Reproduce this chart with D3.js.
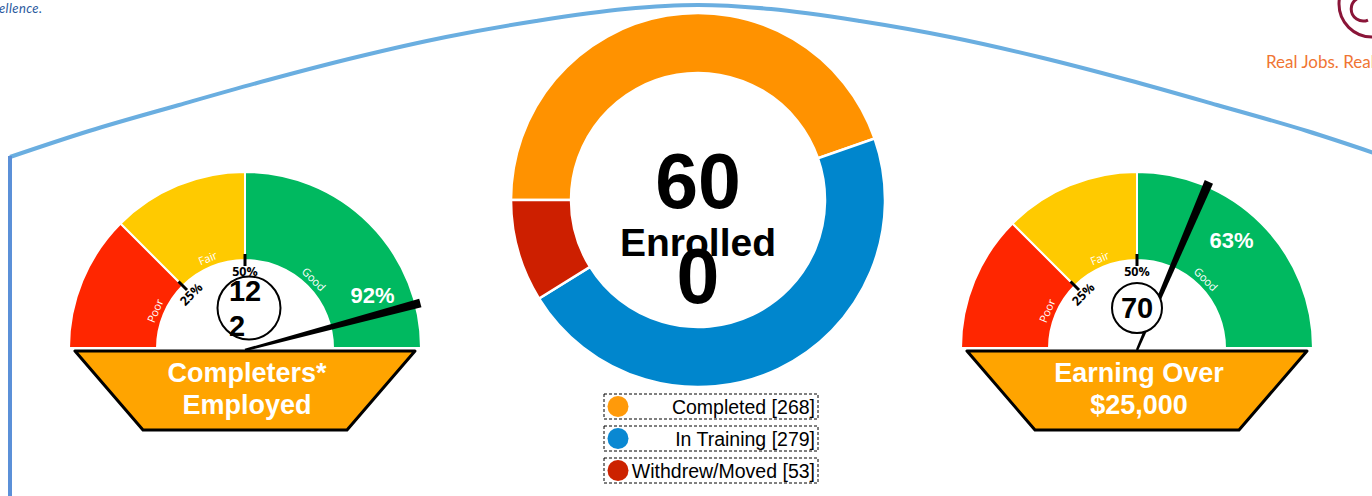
<!DOCTYPE html>
<html>
<head>
<meta charset="utf-8">
<script src="https://cdn.jsdelivr.net/npm/d3@7"></script>
<style>
  html, body { margin: 0; padding: 0; background: #fff; overflow: hidden; }
  svg { display: block; font-family: "Liberation Sans", Arial, sans-serif; }
</style>
</head>
<body>
<div id="chart"></div>
<script>
// enrollment donut
const statusNames = ["Completed", "In Training", "Withdrew/Moved"];
const statusCounts = [268, 279, 53];
const statusColors = ["#ff9200", "#0086cd", "#cd1f00"];
const legendColors = ["#ff9a0a", "#0a88d2", "#cc2200"];
const centerLabel = "Enrolled";

// gauges
const gaugeTitles = [["Completers*", "Employed"], ["Earning Over", "$25,000"]];
const gaugePercents = [0.92, 0.63];
const gaugeCounts = [122, 70];
const bandNames = ["Poor", "Fair", "Good"];
const bandStops = [0, 0.25, 0.5, 1];
const bandColors = ["#ff2600", "#ffca00", "#00b960"];
const tickValues = [0.25, 0.5];

// decorative frame curve (half, mirrored)
const frameHalf = [[10,157],[89,131],[179,105],[268,80],[357,57],[446,37],[536,21],[625,9],[698,5]];

document.addEventListener("DOMContentLoaded", () => {
    const width = 1372, height = 496;

    const svg = d3.select("#chart")
        .append("svg")
        .attr("width", width)
        .attr("height", height);

    // wraps a string character by character so each line fits maxWidth
    function charWrap(textSel, str, maxWidth) {
        const t = textSel.append("tspan");
        const lines = [];
        let line = "";
        for (const ch of str) {
            t.text(line + ch);
            if (t.node().getComputedTextLength() > maxWidth && line) {
                lines.push(line);
                line = ch;
            } else {
                line += ch;
            }
        }
        lines.push(line);
        t.remove();
        return lines;
    }

    // --- frame ---
    const framePts = frameHalf.concat(frameHalf.slice(0, -1).reverse().map(p => [2 * 698 - p[0], p[1]]));
    svg.append("path")
        .attr("d", d3.line().curve(d3.curveMonotoneX)(framePts))
        .attr("fill", "none")
        .attr("stroke", "#6aaee0")
        .attr("stroke-width", 4);
    svg.append("line")
        .attr("x1", 10).attr("x2", 10)
        .attr("y1", 156).attr("y2", height + 5)
        .attr("stroke", "#5b90d8")
        .attr("stroke-width", 4);

    // header bits
    svg.append("text")
        .attr("x", -1).attr("y", 13)
        .attr("font-family", "Lato, sans-serif")
        .attr("font-style", "italic")
        .attr("font-size", "13px")
        .attr("letter-spacing", "0.4px")
        .attr("fill", "#2b5a9e")
        .text("ellence.");
    svg.append("circle")
        .attr("cx", 1372).attr("cy", 4).attr("r", 33)
        .attr("fill", "none").attr("stroke", "#8a1538").attr("stroke-width", 3);
    svg.append("path")
        .attr("d", "M1368,-2 A12,12 0 1,0 1368,20")
        .attr("fill", "none").attr("stroke", "#8a1538").attr("stroke-width", 3);
    svg.append("text")
        .attr("x", 1266).attr("y", 68)
        .attr("font-family", "Lato, sans-serif")
        .attr("font-size", "17px")
        .attr("fill", "#f07533")
        .text("Real Jobs. Real");

    // --- donut ---
    const dcx = 698, dcy = 200;
    const donut = svg.append("g").attr("transform", `translate(${dcx},${dcy})`);
    const pie = d3.pie().sort(null).startAngle(-Math.PI / 2).endAngle(1.5 * Math.PI);
    const arcD = d3.arc().innerRadius(127).outerRadius(187);
    donut.selectAll("path")
        .data(pie(statusCounts))
        .join("path")
        .attr("d", arcD)
        .attr("fill", (d, i) => statusColors[i])
        .attr("stroke", "#fff")
        .attr("stroke-width", 2.5);

    const total = d3.sum(statusCounts);
    const totalText = donut.append("text")
        .attr("text-anchor", "middle")
        .attr("font-weight", "bold")
        .attr("font-size", "77px")
        .attr("fill", "#000");
    charWrap(totalText, String(total), 110).forEach((l, i) => {
        totalText.append("tspan").attr("x", 0).attr("y", 8 + i * 95).text(l);
    });
    donut.append("text")
        .attr("text-anchor", "middle")
        .attr("y", 56)
        .attr("font-weight", "bold")
        .attr("font-size", "39px")
        .text(centerLabel);

    // legend
    const legend = svg.append("g").attr("transform", "translate(604,394)");
    const items = legend.selectAll("g")
        .data(statusNames)
        .join("g")
        .attr("transform", (d, i) => `translate(0,${i * 32})`);
    items.append("rect")
        .attr("width", 214).attr("height", 25)
        .attr("fill", "#fff")
        .attr("stroke", "#000")
        .attr("stroke-width", 1)
        .attr("stroke-dasharray", "3,2");
    items.append("circle")
        .attr("cx", 14).attr("cy", 12.5).attr("r", 10.5)
        .attr("fill", (d, i) => legendColors[i]);
    items.append("text")
        .attr("x", 211).attr("y", 19.5)
        .attr("text-anchor", "end")
        .attr("font-size", "19.5px")
        .attr("fill", "#000")
        .text((d, i) => `${d} [${statusCounts[i]}]`);

    // --- gauges ---
    const gaugeCenters = [245, 1137];
    const gcy = 348, rOut = 176, rIn = 88;
    const angle = d3.scaleLinear().domain([0, 1]).range([-Math.PI / 2, Math.PI / 2]);
    const deg = a => a * 180 / Math.PI;
    const polar = (a, r) => [r * Math.sin(a), -r * Math.cos(a)];

    gaugePercents.forEach((pct, gi) => {
        const g = svg.append("g").attr("transform", `translate(${gaugeCenters[gi]},${gcy})`);

        const bands = bandNames.map((name, i) => ({ name, a0: bandStops[i], a1: bandStops[i + 1] }));
        const arcG = d3.arc().innerRadius(rIn).outerRadius(rOut);
        g.selectAll("path.band")
            .data(bands)
            .join("path")
            .attr("class", "band")
            .attr("d", d => arcG({ startAngle: angle(d.a0), endAngle: angle(d.a1) }))
            .attr("fill", (d, i) => bandColors[i])
            .attr("stroke", "#fff")
            .attr("stroke-width", 2);

        // band names along inner edge
        g.selectAll("text.band")
            .data(bands)
            .join("text")
            .attr("class", "band")
            .attr("transform", d => {
                const a = angle((d.a0 + d.a1) / 2);
                const [x, y] = polar(a, 97);
                return `translate(${x},${y}) rotate(${deg(a)})`;
            })
            .attr("text-anchor", "middle")
            .attr("dy", "0.35em")
            .attr("font-family", "'Open Sans', sans-serif")
            .attr("font-size", "11px")
            .attr("fill", "#fff")
            .text(d => d.name);

        // ticks
        g.selectAll("line.tick")
            .data(tickValues)
            .join("line")
            .attr("class", "tick")
            .attr("x1", d => polar(angle(d), 94)[0])
            .attr("y1", d => polar(angle(d), 94)[1])
            .attr("x2", d => polar(angle(d), 82)[0])
            .attr("y2", d => polar(angle(d), 82)[1])
            .attr("stroke", "#000")
            .attr("stroke-width", 3);
        g.selectAll("text.tick")
            .data(tickValues)
            .join("text")
            .attr("class", "tick")
            .attr("transform", d => {
                const a = angle(d);
                const [x, y] = polar(a, 76);
                return `translate(${x},${y}) rotate(${deg(a)})`;
            })
            .attr("text-anchor", "middle")
            .attr("dy", "0.35em")
            .attr("font-family", "'Open Sans', sans-serif")
            .attr("font-weight", "bold")
            .attr("font-size", "12.5px")
            .attr("fill", "#000")
            .text(d => d3.format(".0%")(d));

        // tapered needle
        const na = angle(pct);
        const tip = polar(na, 181);
        const px = Math.cos(na), py = Math.sin(na);
        const needle = [
            [-px * 1.2, -py * 1.2 + 2],
            [px * 1.2, py * 1.2 + 2],
            [tip[0] + px * 4.5, tip[1] + py * 4.5],
            [tip[0] - px * 4.5, tip[1] - py * 4.5]
        ];
        g.append("path")
            .attr("d", "M" + needle.join("L") + "Z")
            .attr("fill", "#000");

        // percent label
        const la = na + (pct > 0.8 ? -8 : 18) * Math.PI / 180;
        const [lx, ly] = polar(la, pct > 0.8 ? 138 : 143);
        g.append("text")
            .attr("x", lx).attr("y", ly)
            .attr("dy", "0.35em")
            .attr("text-anchor", "middle")
            .attr("font-weight", "bold")
            .attr("font-size", "22px")
            .attr("fill", "#fff")
            .text(d3.format(".0%")(pct));

        // count bubble
        const bubble = g.append("g");
        const circ = bubble.append("circle").attr("fill", "#fff").attr("stroke", "#000").attr("stroke-width", 2);
        const countText = bubble.append("text")
            .attr("font-weight", "bold")
            .attr("font-size", "29px")
            .attr("fill", "#000");
        const lines = charWrap(countText, String(gaugeCounts[gi]), 40);
        const lh = 35;
        countText.text(lines[0]);
        const w0 = countText.node().getComputedTextLength();
        countText.text(null);
        lines.forEach((l, i) => {
            countText.append("tspan")
                .attr("x", -w0 / 2)
                .attr("y", -30 - (lines.length - 1) * lh / 2 + i * lh)
                .text(l);
        });
        const bb = countText.node().getBBox();
        circ.attr("cx", bb.x + bb.width / 2 + (lines.length > 1 ? 4 : 0))
            .attr("cy", bb.y + bb.height / 2)
            .attr("r", Math.max(25, bb.height / 2 - 2));

        // title trapezoid
        const trap = [[-170, 3], [170, 3], [102, 82], [-102, 82]];
        g.append("path")
            .attr("d", "M" + trap.join("L") + "Z")
            .attr("fill", "#ffa400")
            .attr("stroke", "#000")
            .attr("stroke-width", 3)
            .attr("stroke-linejoin", "round");
        g.append("text")
            .attr("text-anchor", "middle")
            .attr("font-weight", "bold")
            .attr("font-size", "27px")
            .attr("fill", "#fff")
            .selectAll("tspan")
            .data(gaugeTitles[gi])
            .join("tspan")
            .attr("x", 2)
            .attr("y", (d, i) => 34 + i * 32)
            .text(d => d);
    });
});
</script>
</body>
</html>
